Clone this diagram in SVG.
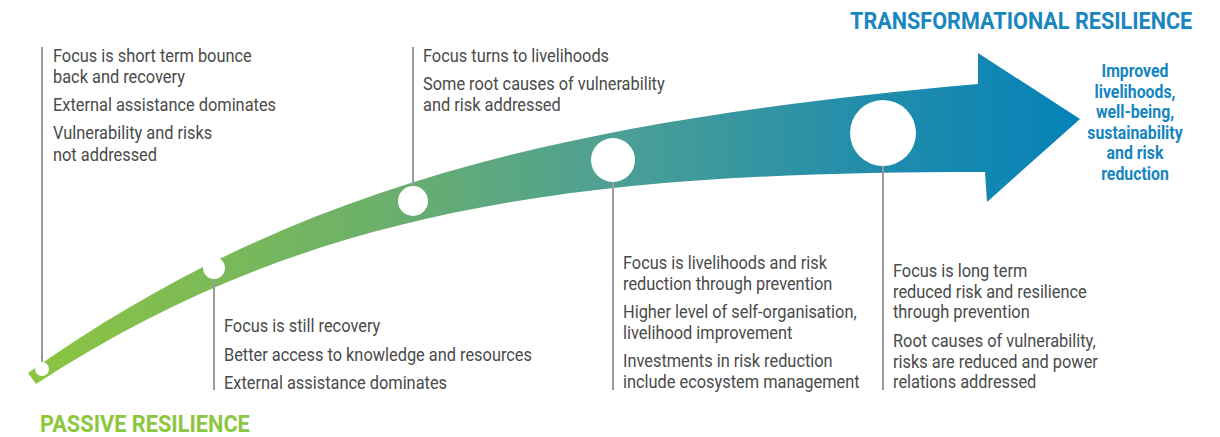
<svg xmlns="http://www.w3.org/2000/svg" width="1220" height="437" viewBox="0 0 1220 437">
<defs>
<linearGradient id="band" gradientUnits="userSpaceOnUse" x1="28" y1="0" x2="1080" y2="0">
<stop offset="0" stop-color="#8dc541"/>
<stop offset="0.33" stop-color="#6cb06a"/>
<stop offset="0.55" stop-color="#4ea094"/>
<stop offset="0.8" stop-color="#218dab"/>
<stop offset="1" stop-color="#0582b8"/>
</linearGradient>
<style>
.body{font-family:Roboto,"Liberation Sans",sans-serif;font-size:18px;fill:#4a4a4a}
.title{font-family:Roboto,"Liberation Sans",sans-serif;font-weight:bold;font-size:24px}
.out{font-family:Roboto,"Liberation Sans",sans-serif;font-weight:bold;font-size:18px;fill:#1585c0;text-anchor:middle}
.dot{fill:#ffffff}
.lead{stroke:#9a9a9a;stroke-width:2;fill:none}
</style>
</defs>
<rect width="1220" height="437" fill="#ffffff"/>
<g id="arrow">
<path d="M28,373 C300,180 578,120 978,84 L978,53 L1080,119 L987,202 L985,172 C585,172 310,205 36,384 Z" fill="url(#band)"/>
</g>
<g id="connectors">
<line class="lead" x1="42" y1="47" x2="42" y2="369"/>
<line class="lead" x1="214" y1="268" x2="214" y2="390"/>
<line class="lead" x1="413" y1="47" x2="413" y2="201"/>
<line class="lead" x1="613" y1="160" x2="613" y2="390"/>
<line class="lead" x1="883" y1="133" x2="883" y2="390"/>
</g>
<g id="stage1">
<circle class="dot" cx="42" cy="369" r="7"/>
<g transform="translate(53,0) scale(0.91,1)">
<text class="body" x="0" y="62">Focus is short term bounce</text>
<text class="body" x="0" y="83">back and recovery</text>
<text class="body" x="0" y="111">External assistance dominates</text>
<text class="body" x="0" y="139">Vulnerability and risks</text>
<text class="body" x="0" y="161">not addressed</text>
</g>
</g>
<g id="stage2">
<circle class="dot" cx="214" cy="268" r="11"/>
<g transform="translate(224,0) scale(0.91,1)">
<text class="body" x="0" y="332">Focus is still recovery</text>
<text class="body" x="0" y="361">Better access to knowledge and resources</text>
<text class="body" x="0" y="389">External assistance dominates</text>
</g>
</g>
<g id="stage3">
<circle class="dot" cx="413" cy="201" r="15"/>
<g transform="translate(423,0) scale(0.91,1)">
<text class="body" x="0" y="62">Focus turns to livelihoods</text>
<text class="body" x="0" y="90">Some root causes of vulnerability</text>
<text class="body" x="0" y="111">and risk addressed</text>
</g>
</g>
<g id="stage4">
<circle class="dot" cx="613" cy="160" r="22"/>
<g transform="translate(623,0) scale(0.91,1)">
<text class="body" x="0" y="269">Focus is livelihoods and risk</text>
<text class="body" x="0" y="290">reduction through prevention</text>
<text class="body" x="0" y="318">Higher level of self-organisation,</text>
<text class="body" x="0" y="339">livelihood improvement</text>
<text class="body" x="0" y="367">Investments in risk reduction</text>
<text class="body" x="0" y="388">include ecosystem management</text>
</g>
</g>
<g id="stage5">
<circle class="dot" cx="883" cy="133" r="33"/>
<g transform="translate(893,0) scale(0.91,1)">
<text class="body" x="0" y="277">Focus is long term</text>
<text class="body" x="0" y="298">reduced risk and resilience</text>
<text class="body" x="0" y="318">through prevention</text>
<text class="body" x="0" y="347">Root causes of vulnerability,</text>
<text class="body" x="0" y="368">risks are reduced and power</text>
<text class="body" x="0" y="388">relations addressed</text>
</g>
</g>
<g id="outcome">
<g transform="translate(1135,0) scale(0.88,1)">
<text class="out" x="0" y="77">Improved</text>
<text class="out" x="0" y="98">livelihoods,</text>
<text class="out" x="0" y="118">well-being,</text>
<text class="out" x="0" y="139">sustainability</text>
<text class="out" x="0" y="159">and risk</text>
<text class="out" x="0" y="180">reduction</text>
</g>
</g>
<g id="titles">
<g transform="translate(850,29) scale(0.86,1)">
<text class="title" x="0" y="0" fill="#1a86c0" textLength="398" lengthAdjust="spacingAndGlyphs">TRANSFORMATIONAL RESILIENCE</text>
</g>
<g transform="translate(40,432) scale(0.86,1)">
<text class="title" x="0" y="0" fill="#8dc63f" textLength="244" lengthAdjust="spacingAndGlyphs">PASSIVE RESILIENCE</text>
</g>
</g>
</svg>
